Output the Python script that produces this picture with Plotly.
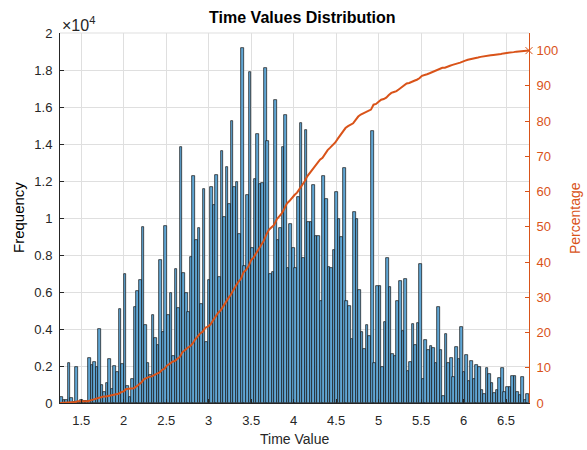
import numpy as np
import plotly.graph_objects as go

# Histogram definition
BIN_START = 1.25
BIN_WIDTH = 0.03
counts = [
    320, 150, 150, 2185, 250, 35, 1950, 50, 180, 90,
    90, 2450, 2040, 2240, 1950, 4010, 970, 570, 1075, 2400,
    770, 2000, 1665, 5085, 2130, 6980, 930, 320, 1307, 5175,
    6050, 6640, 9490, 4225, 2165, 1520, 4760, 3510, 3150, 7722,
    3816, 9558, 4752, 5958, 2538, 7218, 5130, 13824, 7038, 5922,
    4896, 7902, 12258, 8802, 9468, 5364, 11556, 3312, 6624, 11664,
    10692, 12312, 6804, 13626, 10044, 12744, 10764, 15228, 11682, 11952,
    9144, 19200, 7416, 11268, 17892, 8388, 12114, 14562, 11826, 11898,
    18126, 14148, 6966, 7074, 16398, 8802, 9486, 13824, 15552, 7272,
    9666, 8352, 7272, 11160, 15138, 7830, 14760, 9792, 9792, 11808,
    9018, 9018, 5490, 12276, 11016, 7362, 7272, 8262, 11394, 9972,
    9000, 12690, 5490, 5256, 3456, 10314, 9936, 6102, 3852, 2916,
    4212, 3618, 14706, 2160, 6336, 6336, 1944, 4392, 7830, 6282,
    2646, 2538, 5526, 6570, 3906, 6696, 1746, 2214, 4266, 3150,
    4320, 7506, 1296, 3384, 2880, 3096, 2970, 2160, 5170, 2872,
    395, 3734, 2172, 2459, 1418, 3016, 2387, 4129, 1669, 2603,
    1203, 2280, 1310, 2028, 1939, 718, 503, 1903, 1580, 1095,
    556, 718, 1346, 1903, 592, 880, 880, 1472, 1472, 592,
    413, 1382, 144, 500,
]
x_ticks = [1.5, 2, 2.5, 3, 3.5, 4, 4.5, 5, 5.5, 6, 6.5]
x_ticklabels = ["1.5", "2", "2.5", "3", "3.5", "4", "4.5", "5", "5.5", "6", "6.5"]
y_ticks = [0, 2000, 4000, 6000, 8000, 10000, 12000, 14000, 16000, 18000, 20000]
y_ticklabels = ["0", "0.2", "0.4", "0.6", "0.8", "1", "1.2", "1.4", "1.6", "1.8", "2"]
pct_ticks = [0, 10, 20, 30, 40, 50, 60, 70, 80, 90, 100]

counts_arr = np.array(counts, dtype=float)
n = len(counts_arr)
edges = BIN_START + BIN_WIDTH * np.arange(n + 1)
centers = (edges[:-1] + edges[1:]) / 2
cdf = np.concatenate([[0.0], np.cumsum(counts_arr) / counts_arr.sum() * 100])

ORANGE = "#D95319"
TXT = "#262626"
FONT = "Liberation Sans, Arial, sans-serif"

# plot area in pixels: left 60, right 529, top 33, bottom 403
L, R, T, B = 60, 529, 33, 403
PW, PH = R - L, B - T

fig = go.Figure()
fig.add_trace(go.Bar(
    x=centers, y=counts_arr, width=BIN_WIDTH * 1.04,
    marker=dict(color="rgb(96,166,212)", line=dict(color="#111111", width=0.7)),
    yaxis="y", showlegend=False,
))
fig.add_trace(go.Scatter(
    x=edges, y=cdf, mode="lines", yaxis="y2",
    line=dict(color=ORANGE, width=2), showlegend=False,
))
fig.add_trace(go.Scatter(
    x=[edges[-1]], y=[cdf[-1]], mode="markers", yaxis="y2",
    marker=dict(symbol="x-thin", size=7, line=dict(color=ORANGE, width=1)),
    showlegend=False, cliponaxis=False,
))

fig.update_layout(
    width=587, height=450,
    margin=dict(l=L, r=587 - R, t=T, b=450 - B, autoexpand=False),
    paper_bgcolor="white", plot_bgcolor="white",
    font=dict(family=FONT, size=13, color=TXT),
    bargap=0,
    title=dict(text="<b>Time Values Distribution</b>", x=0.515, xanchor="center",
               y=0.962, yanchor="middle", font=dict(size=16, color="#000000")),
    xaxis=dict(
        range=[edges[0], edges[-1]], tickvals=x_ticks, ticktext=x_ticklabels,
        showgrid=True, gridcolor="#dfdfdf", gridwidth=1,
        ticks="inside", ticklen=4, tickcolor=TXT, automargin=False,
        showline=True, linecolor=TXT, linewidth=1, mirror=False,
        zeroline=False, tickfont=dict(size=13, color=TXT), ticklabelstandoff=5,
    ),
    yaxis=dict(
        range=[0, 20000], tickvals=y_ticks, ticktext=y_ticklabels,
        showgrid=True, gridcolor="#dfdfdf", gridwidth=1,
        ticks="inside", ticklen=4, tickcolor=TXT, automargin=False,
        showline=True, linecolor=TXT, linewidth=1,
        zeroline=False, tickfont=dict(size=13, color=TXT), ticklabelstandoff=4,
    ),
    yaxis2=dict(
        overlaying="y", side="right", range=[0, 105], tickvals=pct_ticks,
        showgrid=False, ticks="inside", ticklen=4, tickcolor=ORANGE, automargin=False,
        showline=True, linecolor=ORANGE, linewidth=1, zeroline=False,
        tickfont=dict(size=13, color=ORANGE), ticklabelstandoff=4,
    ),
    annotations=[
        dict(text="×10<sup>4</sup>", x=0, y=1.0, xref="paper", yref="paper",
             xanchor="left", yanchor="bottom", showarrow=False, yshift=-3,
             font=dict(size=16, color=TXT)),
        dict(text="Time Value", x=0.5, y=(B - 439) / PH, xref="paper", yref="paper",
             xanchor="center", yanchor="middle", showarrow=False,
             font=dict(size=14, color=TXT)),
        dict(text="Frequency", x=(18 - L) / PW, y=0.5, xref="paper", yref="paper",
             xanchor="center", yanchor="middle", showarrow=False, textangle=-90,
             font=dict(size=15, color="#000000")),
        dict(text="Percentage", x=(575 - L) / PW, y=0.5, xref="paper", yref="paper",
             xanchor="center", yanchor="middle", showarrow=False, textangle=-90,
             font=dict(size=14, color=ORANGE)),
    ],
    shapes=[dict(type="line", xref="paper", yref="paper", x0=0, x1=1, y0=1, y1=1,
                 line=dict(color="#dfdfdf", width=1))],
)

fig.write_html("out.html")
